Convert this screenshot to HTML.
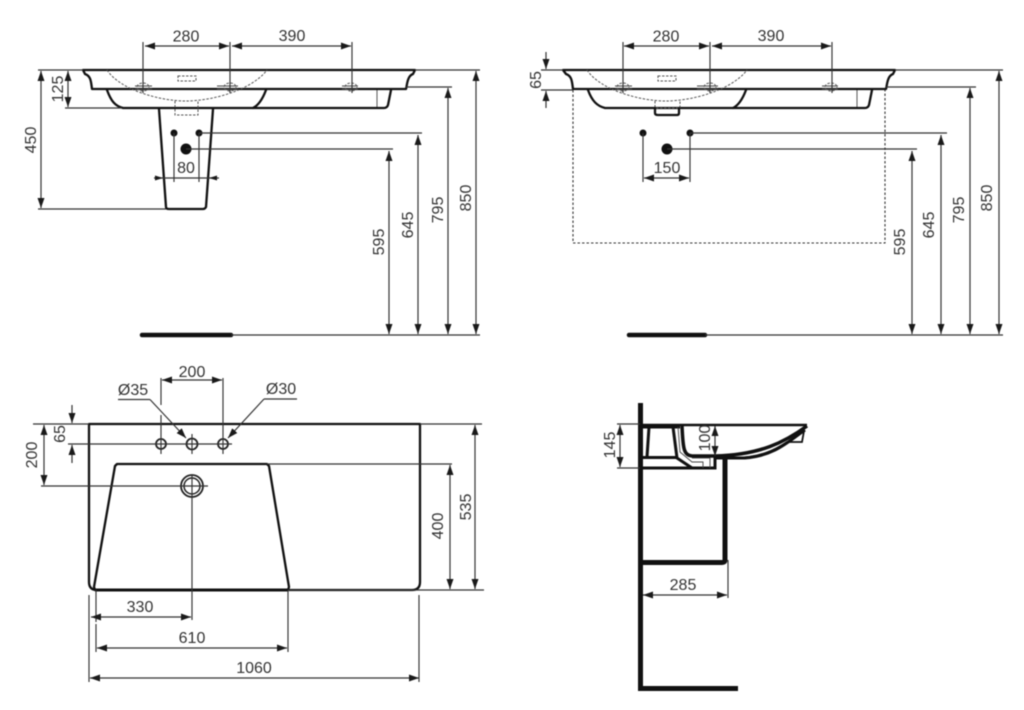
<!DOCTYPE html>
<html><head><meta charset="utf-8"><style>
html,body{margin:0;padding:0;background:#fff;width:1024px;height:710px;overflow:hidden}
svg{display:block;filter:blur(0.4px)}
text{font-family:"Liberation Sans",sans-serif;font-size:16px;fill:#333;text-anchor:middle}
.d{stroke:#333;stroke-width:1.15;fill:none}
.a{stroke:#333;stroke-width:1.2;fill:none;marker-start:url(#s);marker-end:url(#e)}
.b{stroke:#333;stroke-width:1.2;fill:none;marker-end:url(#e)}
.k{stroke:#111;stroke-width:2.3;fill:none;stroke-linejoin:round;stroke-linecap:round}
.h{stroke:#111;stroke-width:5;fill:none;stroke-linecap:butt;stroke-linejoin:round}
.t{stroke:#444;stroke-width:.9;fill:none}
.o{stroke:#555;stroke-width:1;fill:none;stroke-dasharray:2.5 1.5}
</style></head><body>
<svg width="1024" height="710" viewBox="0 0 1024 710" xmlns="http://www.w3.org/2000/svg">
<defs>
<marker id="e" markerUnits="userSpaceOnUse" markerWidth="11" markerHeight="8" refX="10" refY="4" orient="auto"><path d="M0 .5L10 4L0 7.5Z" fill="#1a1a1a"/></marker>
<marker id="s" markerUnits="userSpaceOnUse" markerWidth="11" markerHeight="8" refX="0" refY="4" orient="auto"><path d="M10 .5L0 4L10 7.5Z" fill="#1a1a1a"/></marker>
</defs>

<!-- TOP LEFT -->
<g id="tl">
<path class="k" d="M83 70H415L413 74C407 76 407 86 406 89H92C91 82 91 76 85 74Z"/>
<path class="k" d="M107 90C111 101 115 106 123 108H253C259 105 263 98 266 90"/>
<path class="k" d="M391 90L388 105Q387 108 384 108H253"/>
<path class="t" d="M377 90V107"/>
<path class="o" d="M107 70C120 90 160 101 186 101C212 101 252 90 267 70"/>
<path class="o" d="M178 76H196V81H178Z"/>
<path class="o" d="M175 101V115H198V101"/>
<path class="k" d="M159 109L166 207Q166 209 169 209H203Q205 209 206 207L213 109"/>
<path class="t" d="M135 86H152M135 89H152M217 86H238M217 89H238M342 86H358M342 89H358"/>
<ellipse class="o" cx="143" cy="87" rx="6" ry="4"/><ellipse class="o" cx="230" cy="87" rx="6" ry="4"/><ellipse class="o" cx="351" cy="87" rx="6" ry="4"/>
<circle cx="174" cy="133" r="3.5" fill="#111"/><circle cx="199" cy="133" r="3.5" fill="#111"/><circle cx="186" cy="149" r="5.5" fill="#111"/>
<path class="d" d="M143 42V93M230 42V93M352 42V93M199 133H422M186 149H393M174 133V182M199 133V182M154 178H219"/>
<path class="a" d="M145 46H229"/><path class="a" d="M232 46H351"/>
<path d="M163 178L155 175.5V180.5ZM209 178L217 175.5V180.5Z" fill="#1a1a1a"/>
<path class="d" d="M38 70H83M65 108H122M38 209H166M415 70H480M406 87H452"/>
<path class="a" d="M41 71V208"/><path class="a" d="M68 71V107"/>
<path class="a" d="M389 151V334"/><path class="a" d="M418 135V334"/><path class="a" d="M448 88V334"/><path class="a" d="M476 71V334"/>
<path stroke="#111" stroke-width="4.5" stroke-linecap="round" d="M142 335H231"/>
<path class="d" d="M231 335H480"/>
<text x="186" y="41.5">280</text><text x="292" y="41">390</text><text x="186" y="173">80</text>
<text transform="translate(36 140) rotate(-90)">450</text>
<text transform="translate(63 89) rotate(-90)">125</text>
<text transform="translate(384 242) rotate(-90)">595</text>
<text transform="translate(413 225) rotate(-90)">645</text>
<text transform="translate(443 210) rotate(-90)">795</text>
<text transform="translate(471 198) rotate(-90)">850</text>
</g>

<!-- TOP RIGHT -->
<g id="tr">
<path class="k" d="M563 70H895L893 74C887 76 887 86 886 89H573C572 82 572 76 566 74Z"/>
<path class="k" d="M588 90C592 101 597 106 605 108H733C739 105 743 98 746 90"/>
<path class="k" d="M872 90L869 105Q868 108 865 108H733"/>
<path class="t" d="M857 90V107"/>
<path class="o" d="M587 70C600 90 640 101 666 101C692 101 732 90 747 70"/>
<path class="o" d="M658 76H676V81H658Z"/>
<path class="o" d="M655 101V108H680V101"/>
<path class="k" d="M655 108V113Q655 115 658 115H677Q679 115 679 113V108"/>
<path class="t" d="M615 86H632M615 89H632M697 86H718M697 89H718M822 86H838M822 89H838"/>
<ellipse class="o" cx="623" cy="87" rx="6" ry="4"/><ellipse class="o" cx="710" cy="87" rx="6" ry="4"/><ellipse class="o" cx="831" cy="87" rx="6" ry="4"/>
<path d="M573 90V243H885V90" fill="none" stroke="#333" stroke-width="1.1" stroke-dasharray="2.5 2"/>
<circle cx="643" cy="133" r="3.5" fill="#111"/><circle cx="690" cy="133" r="3.5" fill="#111"/><circle cx="667" cy="149" r="5.5" fill="#111"/>
<path class="d" d="M623 42V93M710 42V93M832 42V93M690 133H947M667 149H917M643 133V182M690 133V182"/>
<path class="a" d="M624 46H709"/><path class="a" d="M712 46H831"/>
<path class="a" d="M644 178H689"/>
<path class="d" d="M541 70H563M541 90H573M895 70H1003M886 87H976"/>
<path class="b" d="M546 52V69"/><path class="b" d="M546 108V91"/>
<path class="a" d="M912 151V334"/><path class="a" d="M941 135V334"/><path class="a" d="M970 88V334"/><path class="a" d="M999 71V334"/>
<path stroke="#111" stroke-width="4.5" stroke-linecap="round" d="M629 335H705"/>
<path class="d" d="M705 335H1003"/>
<text x="666" y="41.5">280</text><text x="771" y="41">390</text><text x="667" y="173">150</text>
<text transform="translate(541 80) rotate(-90)">65</text>
<text transform="translate(905 242) rotate(-90)">595</text>
<text transform="translate(934 225) rotate(-90)">645</text>
<text transform="translate(964 210) rotate(-90)">795</text>
<text transform="translate(992 198) rotate(-90)">850</text>
</g>

<!-- BOTTOM LEFT -->
<g id="bl">
<path class="k" d="M89 424H420V582Q420 590 412 590H97Q89 590 89 582Z"/>
<path class="k" d="M117 464H267L269 466L289 587L288 590H95L94 587L115 466Z"/>
<path d="M95 590H288" stroke="#111" stroke-width="3"/>
<circle cx="161" cy="444" r="5" fill="none" stroke="#222" stroke-width="1.8"/>
<circle cx="192" cy="444" r="5.5" fill="none" stroke="#222" stroke-width="1.8"/>
<circle cx="223" cy="444" r="5" fill="none" stroke="#222" stroke-width="1.8"/>
<circle cx="192" cy="486" r="11" fill="none" stroke="#222" stroke-width="1.8"/>
<circle cx="192" cy="486" r="8" fill="none" stroke="#222" stroke-width="1.5"/>
<path class="d" d="M161 378V405M161 415V454M223 378V454M192 434V454M68 444H232M33 424H89M41 486H208M192 475V620M288 590V652"/>
<path class="a" d="M162 380H222"/>
<path class="d" d="M118 399.5H150"/><path class="b" d="M150 399.5L186 438"/>
<path class="d" d="M297 399H264"/><path class="b" d="M264 399L228 438"/>
<path class="a" d="M44 425V485"/>
<path class="b" d="M72 405V423"/><path class="b" d="M72 463V445"/>
<path class="d" d="M267 464H452M420 424H482M288 590H484M419 595V682M89 595V682M96 590V622M96 624V652"/>
<path class="a" d="M450 465V589"/><path class="a" d="M475 425V589"/>
<path class="a" d="M91 617H191"/><path class="a" d="M97 648H287"/><path class="a" d="M90 678H419"/>
<text x="192" y="377">200</text>
<text x="133" y="395">Ø35</text><text x="281" y="394">Ø30</text>
<text transform="translate(37 455) rotate(-90)">200</text>
<text transform="translate(65 434) rotate(-90)">65</text>
<text transform="translate(443 526) rotate(-90)">400</text>
<text transform="translate(471 507) rotate(-90)">535</text>
<text x="140" y="612">330</text><text x="192" y="643">610</text><text x="254" y="673">1060</text>
</g>

<!-- SIDE VIEW -->
<g id="side">
<path class="h" d="M640.5 403V691"/>
<path stroke="#111" stroke-width="5" d="M638 688.5H738"/>
<path stroke="#111" stroke-width="2.5" fill="none" d="M640 425H807"/>
<path stroke="#111" stroke-width="4" fill="none" d="M640 426.500H680"/>
<path stroke="#111" stroke-width="3.5" fill="none" stroke-linejoin="round" d="M807 426C785 442 760 455 715 456H692C684 455 683 450 682 426"/>
<path stroke="#111" stroke-width="3" fill="none" d="M805 430C790 440 775 456 745 458H715V468H692L677 458L673 427"/>
<path stroke="#111" stroke-width="1.8" fill="none" d="M732 458C760 458 775 450 787 442H802L804 431"/>
<path stroke="#111" stroke-width="3" fill="none" d="M649 427L647 457M640 457.500H676M640 468H692"/>
<path class="t" d="M678 427L680 452L692 462H703V468M692 458H710V468"/>
<path class="h" d="M725 458V560Q725 562.500 722 562.500H640"/>
<path class="d" d="M728 560V598"/>
<path class="a" d="M643 595H727"/>
<path class="d" d="M617 424H640M617 468H640"/>
<path class="a" d="M620 425V467"/>
<path class="a" d="M715 426V456"/>
<text x="683" y="590">285</text>
<text transform="translate(615 445) rotate(-90)">145</text>
<text transform="translate(710 438) rotate(-90)">100</text>
</g>
</svg>
</body></html>
